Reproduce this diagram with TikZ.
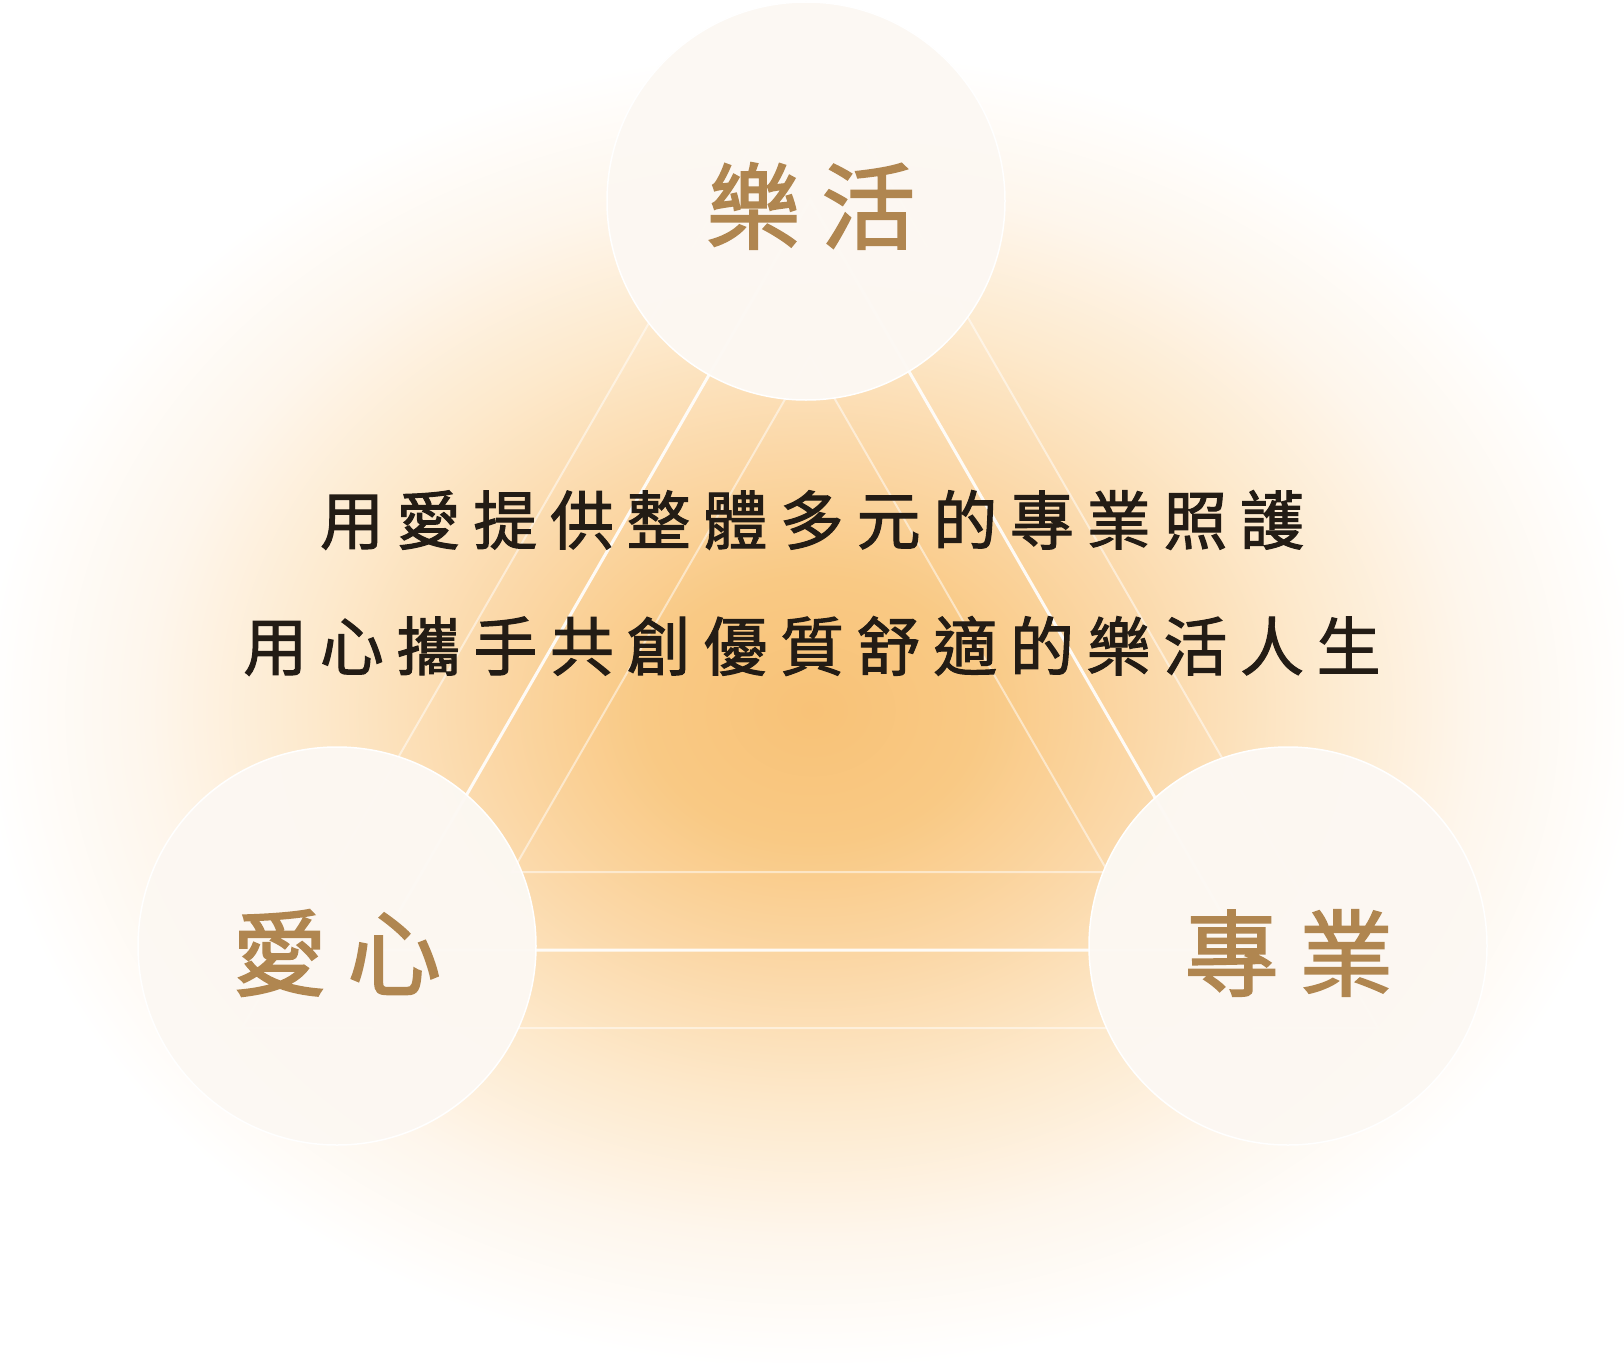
\documentclass[tikz,border=0pt]{standalone}
\usepackage{fontspec}
\newfontfamily\bodyfont[LetterSpace=19.8, FakeBold=1.6]{Noto Sans CJK TC}
\newfontfamily\labelfont[LetterSpace=22, FakeBold=1.8]{Noto Sans CJK TC}
\definecolor{glowA}{HTML}{F8C277}
\definecolor{glowB}{HTML}{F9C984}
\definecolor{glowC}{HTML}{FBD8A8}
\definecolor{glowD}{HTML}{FDE9CC}
\definecolor{glowE}{HTML}{FEF6EC}
\definecolor{bubblefill}{HTML}{FCF8F3}
\definecolor{labelcol}{HTML}{B08650}
\definecolor{textcol}{HTML}{231C15}
\pgfdeclareradialshading{glow}{\pgfpoint{0bp}{0bp}}{color(0bp)=(glowA); color(5bp)=(glowB); color(10bp)=(glowC); color(15bp)=(glowD); color(20bp)=(glowE); color(25bp)=(white); color(50bp)=(white)}
\tikzset{
  bubble/.style={circle, minimum size=398pt, inner sep=0pt, fill=bubblefill, fill opacity=0.97, draw=white, line width=1.5pt},
  labeltext/.style={inner sep=0pt, text=labelcol, font=\labelfont\fontsize{94}{100}\selectfont},
  brightline/.style={draw=white, line width=3pt, opacity=0.9},
  faintline/.style={draw=white, line width=2pt, opacity=0.5},
  bodytext/.style={text=textcol, inner sep=0pt, font=\bodyfont\fontsize{64}{72}\selectfont}
}
\begin{document}
\begin{tikzpicture}[x=1pt,y=-1pt]
\useasboundingbox (0,0) rectangle (1624,1362);
\fill[white] (0,0) rectangle (1624,1362);
\shade[shading=glow] (812,710) ellipse [x radius=830, y radius=660];
% triangle vertices (centroid 810,700)
\coordinate (ia) at (810,356); \coordinate (il) at (512,872); \coordinate (ir) at (1108,872);
\coordinate (ma) at (810,200); \coordinate (ml) at (377,950); \coordinate (mr) at (1243,950);
\coordinate (oa) at (810,44);  \coordinate (ol) at (242,1028); \coordinate (or) at (1378,1028);
\draw[faintline] (ia) -- (il) -- (ir) -- cycle;
\draw[faintline] (oa) -- (ol) -- (or) -- cycle;
\draw[brightline] (ma) -- (ml) -- (mr) -- cycle;
% circles
\node[bubble] (top) at (806,201) {};
\node[bubble] (left) at (337,946) {};
\node[bubble] (right) at (1288,946) {};
\node[labeltext] (toplabel) at ([xshift=5pt,yshift=-5pt]top.center) {樂活};
\node[labeltext] (leftlabel) at ([yshift=-7pt]left.center) {愛心};
\node[labeltext] (rightlabel) at ([xshift=1pt,yshift=-7pt]right.center) {專業};
% body text
\node[bodytext] (line1) at (812,520) {用愛提供整體多元的專業照護};
\node[bodytext] (line2) at (812,646) {用心攜手共創優質舒適的樂活人生};
\end{tikzpicture}
\end{document}
